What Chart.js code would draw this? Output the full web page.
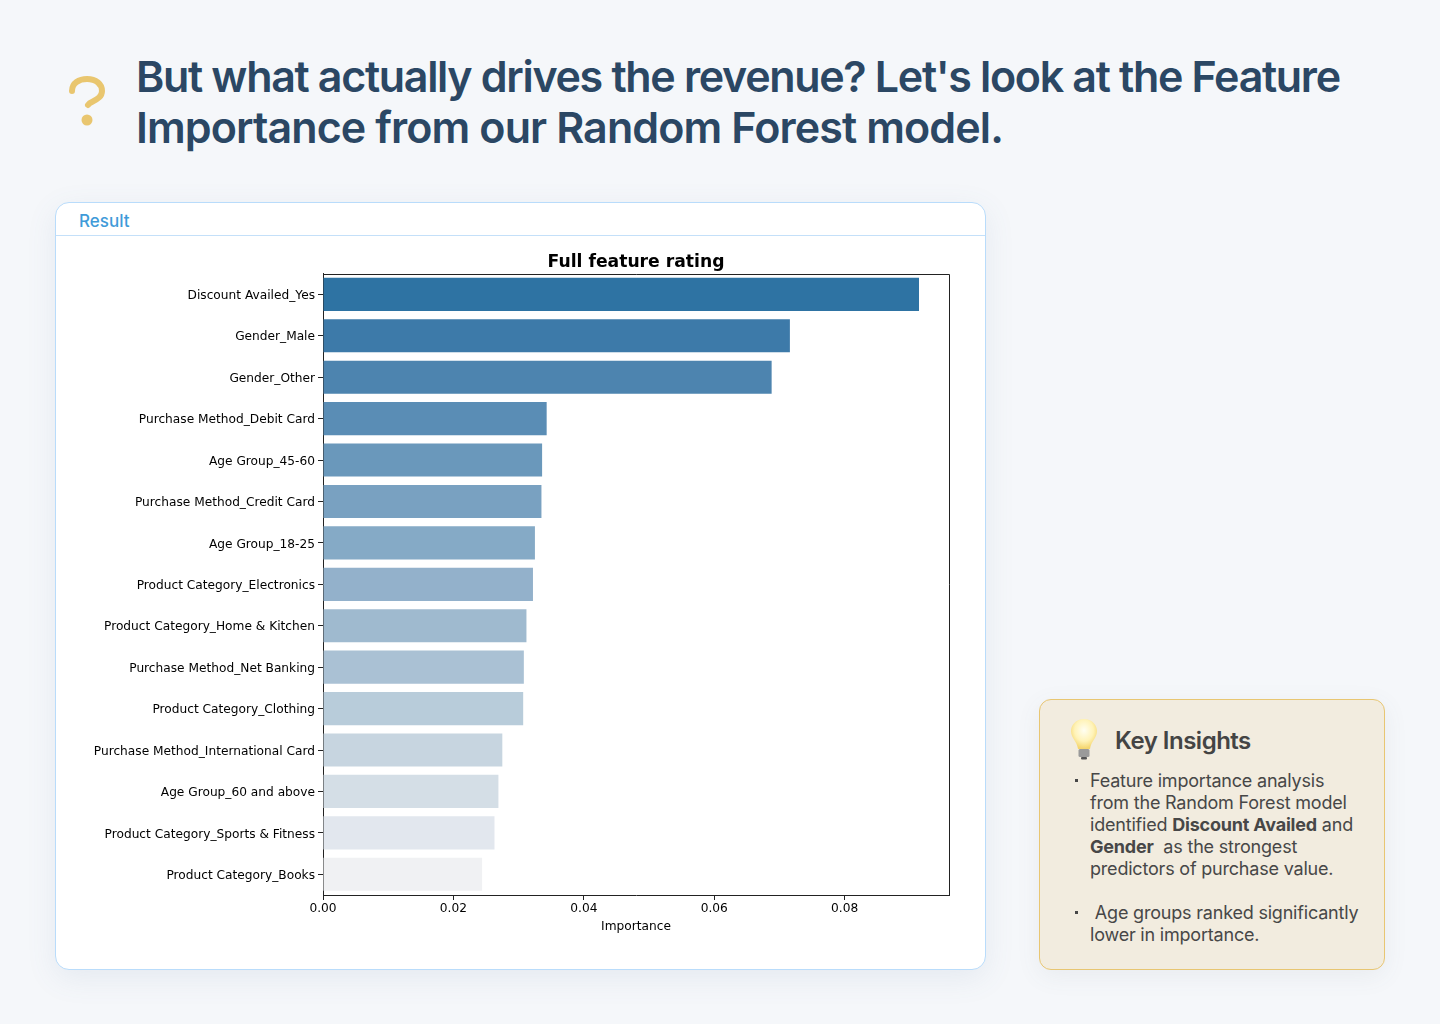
<!DOCTYPE html>
<html>
<head>
<meta charset="utf-8">
<script src="https://cdn.jsdelivr.net/npm/chart.js@4"></script>
<style>
  html, body { margin: 0; padding: 0; }
  body { width: 1440px; height: 1024px; background: #f5f7fa; position: relative; overflow: hidden; font-family: Inter, "Noto Sans", sans-serif; }
  h1 { position: absolute; left: 136px; top: 51px; margin: 0; width: 1270px; font-size: 43px; line-height: 51px; font-weight: 600; color: #2b4764; letter-spacing: -0.9px; white-space: nowrap; }
  h1 span { letter-spacing: -1.33px; }
  .ask { position: absolute; left: 66px; top: 72px; }
  .card { position: absolute; left: 55px; top: 202px; width: 929px; height: 766px; background: #fff; border: 1px solid #b9dcfb; border-radius: 14px; box-shadow: 0 8px 30px rgba(90,120,160,0.10); }
  .card .head { height: 32px; border-bottom: 1px solid #c4e0f9; padding-left: 23px; font-size: 17px; line-height: 36px; font-weight: 500; color: #3f9bd9; }
  .card canvas { position: absolute; left: 0; top: 33px; }
  .note { position: absolute; left: 1039px; top: 699px; width: 344px; height: 269px; background: #f2ecdf; border: 1px solid #e8c672; border-radius: 12px; box-shadow: 0 6px 24px rgba(90,100,120,0.08); color: #474747; }
  .note h2 { position: absolute; left: 75px; top: 26px; margin: 0; font-size: 24px; line-height: 30px; font-weight: 600; color: #444; letter-spacing: -0.5px; white-space: nowrap; }
  .note svg { position: absolute; left: 28px; top: 17px; }
  .note p { position: absolute; left: 50px; margin: 0; font-size: 18px; line-height: 22px; letter-spacing: -0.2px; white-space: nowrap; }
  .note i { position: absolute; left: 35px; width: 3px; height: 3px; background: #474747; }
</style>
</head>
<body>
<svg class="ask" width="42" height="58" viewBox="0 0 42 58">
  <path d="M6 19 C6 11 13 7 21 7 C30 7 36 12 36 19 C36 26 29 28 24 31 L22 33" fill="none" stroke="#e9c66f" stroke-width="6" stroke-linecap="round"/>
  <circle cx="21" cy="48" r="5.5" fill="#e9c66f"/>
</svg>
<h1><span>But what actually drives the revenue? Let's look at the Feature</span><br>Importance from our Random Forest model.</h1>

<div class="card">
  <div class="head">Result</div>
  <canvas id="chart" width="929" height="733"></canvas>
</div>

<div class="note">
  <svg width="32" height="44" viewBox="0 0 32 44">
    <defs><radialGradient id="glow" cx="50%" cy="38%" r="60%"><stop offset="0" stop-color="#fffef2"/><stop offset="0.6" stop-color="#fff3b8"/><stop offset="1" stop-color="#f5d66f"/></radialGradient></defs>
    <path d="M16 2 C7 2 3 9 3 14 C3 21 9 24 10 32 L22 32 C23 24 29 21 29 14 C29 9 25 2 16 2 Z" fill="url(#glow)"/>
    <rect x="10.5" y="32" width="11" height="8" rx="1.5" fill="#9a9a9a"/>
    <rect x="13" y="40" width="6" height="2.5" rx="1" fill="#555"/>
  </svg>
  <h2>Key Insights</h2>
  <i style="top:79px"></i>
  <p style="top:70px">Feature importance analysis<br>from the Random Forest model<br>identified <b>Discount Availed</b> and<br><b>Gender</b>&nbsp; as the strongest<br>predictors of purchase value.</p>
  <i style="top:211px"></i>
  <p style="top:202px">&nbsp;Age groups ranked significantly<br>lower in importance.</p>
</div>

<script>
// Feature importance from the random forest, highest first
const features = ["Discount Availed_Yes","Gender_Male","Gender_Other","Purchase Method_Debit Card","Age Group_45-60","Purchase Method_Credit Card","Age Group_18-25","Product Category_Electronics","Product Category_Home & Kitchen","Purchase Method_Net Banking","Product Category_Clothing","Purchase Method_International Card","Age Group_60 and above","Product Category_Sports & Fitness","Product Category_Books"];
const importance = [0.0914,0.0716,0.0688,0.0343,0.0336,0.0335,0.0325,0.0322,0.0312,0.0308,0.0307,0.0275,0.0269,0.0263,0.0244];
const barColors = ["#2e73a3","#3d7aa9","#4d84af","#5a8db5","#6a98bb","#79a1c1","#85aac6","#93b1cb","#9fbacf","#aac1d4","#b8ccda","#c7d5e0","#d4dee6","#e2e7ee","#f0f1f3"];
const xTicks = [0, 0.02, 0.04, 0.06, 0.08];
const xMax = 0.096;

const font = { family: '"DejaVu Sans"', size: 12.2 };

// Closes the plot frame on the top and right sides; the axes draw the other two
const frame = {
  id: 'frame',
  afterDraw(c) {
    const a = c.chartArea, g = c.ctx;
    const top = Math.round(a.top) + 0.5, right = Math.round(a.right) + 0.5;
    g.save();
    g.strokeStyle = '#222';
    g.lineWidth = 1;
    g.beginPath();
    g.moveTo(a.left, top);
    g.lineTo(right, top);
    g.lineTo(right, a.bottom);
    g.stroke();
    g.restore();
  }
};

new Chart(document.getElementById('chart'), {
  type: 'bar',
  data: {
    labels: features,
    datasets: [{ data: importance, backgroundColor: barColors, borderWidth: 0, barPercentage: 0.8, categoryPercentage: 1 }]
  },
  plugins: [frame],
  options: {
    indexAxis: 'y',
    responsive: false,
    animation: false,
    layout: { padding: { left: 0, right: 36, top: 0, bottom: 34.5 } },
    plugins: {
      legend: { display: false },
      tooltip: { enabled: false },
      title: { display: true, fullSize: false, text: 'Full feature rating', color: '#000', padding: { top: 16, bottom: 1 }, font: { family: '"DejaVu Sans"', size: 17.2, weight: 'bold' } }
    },
    scales: {
      x: {
        type: 'linear', min: 0, max: xMax,
        afterBuildTicks(s) { s.ticks = xTicks.map(v => ({ value: v })); },
        afterFit(s) { s.height = 39.5; },
        border: { color: '#222' },
        grid: { drawOnChartArea: false, tickLength: 5, color: '#222' },
        ticks: { color: '#000', font, padding: 2, maxRotation: 0, callback: v => v.toFixed(2) },
        title: { display: true, text: 'Importance', color: '#000', font, padding: { top: 0, bottom: 0 } }
      },
      y: {
        type: 'category',
        afterFit(s) { s.width = 267; },
        border: { color: '#222' },
        grid: { offset: false, drawOnChartArea: false, tickLength: 5, color: '#222' },
        ticks: { color: '#000', font, padding: 3, autoSkip: false, labelOffset: 1.5 }
      }
    }
  }
});
</script>
</body>
</html>
